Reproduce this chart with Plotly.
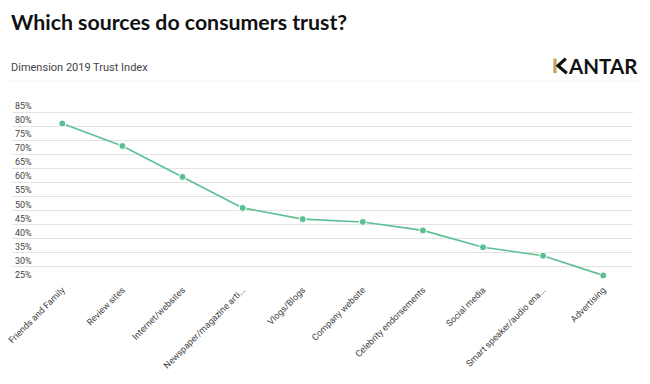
import plotly.graph_objects as go

categories = [
    "Friends and Family", "Review sites", "Internet/websites",
    "Newspaper/magazine arti...", "Vlogs/Blogs", "Company website",
    "Celebrity endorsements", "Social media", "Smart speaker/audio ena...",
    "Advertising",
]
trust_values = [81, 73, 62, 51, 47, 46, 43, 37, 34, 27]
y_ticks = [25, 30, 35, 40, 45, 50, 55, 60, 65, 70, 75, 80, 85]
y_tick_labels = [f"{v}%" for v in y_ticks]

W, H = 650, 384
L, R, T, B = 12, 17, 101, 103
pw, ph = W - L - R, H - T - B

def px(x):
    return (x - L) / pw

def py(y):
    return (H - B - y) / ph

fig = go.Figure()
fig.add_trace(go.Scatter(
    x=categories, y=trust_values, mode="lines+markers",
    line=dict(color="#5cbf93", width=1.6),
    marker=dict(size=7, color="#5cbf93", line=dict(color="white", width=1)),
    cliponaxis=False, hoverinfo="x+y",
))

# KANTAR logo: gold stem + black arms for the K, then "ANTAR" as text
k_arms = (f"M {px(565.8)},{py(58.6)} L {px(558.0)},{py(65.8)} "
          f"L {px(566.8)},{py(73.2)}")

fig.update_layout(
    width=W, height=H,
    margin=dict(l=L, r=R, t=T, b=B, pad=0, autoexpand=False),
    paper_bgcolor="white", plot_bgcolor="white",
    showlegend=False,
    font=dict(family="Roboto, sans-serif", color="#333333", size=9),
    xaxis=dict(
        type="category", range=[-0.837, 9.496], automargin=False,
        showgrid=False, zeroline=False, showline=False,
        tickangle=-45, tickfont=dict(size=9, color="#444444"),
        ticks="", ticklabelstandoff=1,
    ),
    yaxis=dict(
        range=[25, 89], tickvals=y_ticks, ticktext=y_tick_labels,
        automargin=False,
        showgrid=True, gridcolor="#e3e3e3", gridwidth=1,
        zeroline=False, showline=False, ticks="",
        ticklabelposition="inside top",
        tickfont=dict(size=9, color="#444444"),
    ),
    annotations=[
        dict(text="<b>Which sources do consumers trust?</b>", xref="paper", yref="paper",
             x=px(9), y=py(22), xanchor="left", yanchor="middle",
             showarrow=False, font=dict(family="Lato", size=21.3, color="#111111")),
        dict(text="Dimension 2019 Trust Index", xref="paper", yref="paper",
             x=px(9), y=py(67), xanchor="left", yanchor="middle",
             showarrow=False, font=dict(family="Roboto", size=11, color="#444444")),
        dict(text="<b>ANTAR</b>", xref="paper", yref="paper",
             x=px(640), y=py(66), xanchor="right", yanchor="middle",
             showarrow=False, font=dict(family="Lato", size=20.5, color="#111111")),
    ],
    shapes=[
        dict(type="line", xref="paper", yref="paper",
             x0=px(10), x1=px(640), y0=py(81), y1=py(81),
             line=dict(color="#f0f0f0", width=1)),
        dict(type="rect", xref="paper", yref="paper",
             x0=px(553.3), x1=px(556.6), y0=py(73.2), y1=py(58.6),
             fillcolor="#c9a55c", line=dict(width=0), layer="above"),
        dict(type="path", xref="paper", yref="paper", path=k_arms,
             line=dict(color="#111111", width=3.2), layer="above"),
    ],
)

fig.write_html("out.html", config={"displayModeBar": False},
               post_script="document.body.style.margin='0';")
